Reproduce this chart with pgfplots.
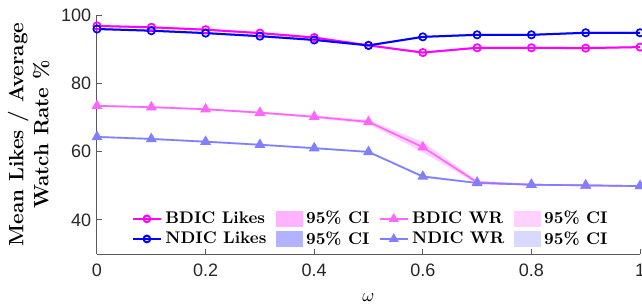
\documentclass[border=0pt]{standalone}
\usepackage{fontspec}
\usepackage{pgfplots}
\pgfplotsset{compat=1.18}
\newfontfamily\tickfont{Liberation Sans}
\definecolor{cBL}{RGB}{255,0,255}
\definecolor{cNL}{RGB}{0,0,255}
\definecolor{cBW}{RGB}{255,102,255}
\definecolor{cNW}{RGB}{127,127,255}
\definecolor{axgray}{RGB}{90,90,90}
\begin{document}
\begin{tikzpicture}[x=1pt,y=1pt]
\begin{axis}[
  scale only axis, width=325.8pt, height=143.4pt,
  xmin=0, xmax=1, ymin=30, ymax=100,
  axis x line*=bottom, axis y line*=left,
  axis line style={axgray, line width=0.6pt},
  xtick={0,0.2,0.4,0.6,0.8,1}, xticklabels={0,0.2,0.4,0.6,0.8,1},
  ytick={40,60,80,100},
  tick style={axgray, line width=0.6pt}, major tick length=3pt,
  tick align=inside,
  ticklabel style={font=\tickfont\fontsize{10.8}{12}\selectfont, text=black!85},
  xticklabel style={yshift=-2.5pt},
  /pgf/number format/assume math mode=true,
  xlabel={$\omega$}, xlabel style={font=\fontsize{11}{12}\selectfont, yshift=-3.2pt},
  ylabel={Mean Likes / Average\\Watch Rate \%},
  ylabel style={font=\bfseries\fontsize{12.4}{15}\selectfont, align=center, yshift=0pt},
  legend columns=4,
  legend style={draw=none, fill=none, at={(0.505,0.105)}, anchor=center,
    font=\bfseries\fontsize{10.1}{12}\selectfont, row sep=-1pt,
    /tikz/every even column/.append style={column sep=3.6pt}},
  legend cell align=left,
]
% CI bands
\addplot[draw=none, fill=cBL, fill opacity=0.3, forget plot] coordinates {
(0,97.1)(0.1,96.7)(0.2,96.0)(0.3,95.0)(0.4,93.7)(0.5,91.4)(0.6,89.3)(0.7,90.7)(0.8,90.7)(0.9,90.6)(1,90.9)
(1,90.3)(0.9,90.0)(0.8,90.1)(0.7,90.1)(0.6,88.7)(0.5,90.8)(0.4,93.1)(0.3,94.4)(0.2,95.4)(0.1,96.1)(0,96.5)} -- cycle;
\addplot[draw=none, fill=cNL, fill opacity=0.3, forget plot] coordinates {
(0,96.2)(0.1,95.7)(0.2,95.0)(0.3,94.1)(0.4,93.0)(0.5,91.4)(0.6,93.9)(0.7,94.5)(0.8,94.5)(0.9,95.1)(1,95.1)
(1,94.5)(0.9,94.5)(0.8,93.9)(0.7,93.9)(0.6,93.3)(0.5,90.8)(0.4,92.4)(0.3,93.5)(0.2,94.4)(0.1,95.1)(0,95.6)} -- cycle;
\addplot[draw=none, fill=cBW, fill opacity=0.3, forget plot] coordinates {
(0,73.7)(0.1,73.3)(0.2,72.7)(0.3,71.7)(0.4,70.6)(0.5,69.3)(0.6,62.8)(0.7,51.5)(0.8,50.5)(0.9,50.3)(1,50.1)
(1,49.7)(0.9,49.9)(0.8,50.1)(0.7,50.5)(0.6,59.8)(0.5,68.1)(0.4,69.8)(0.3,71.1)(0.2,72.1)(0.1,72.7)(0,73.1)} -- cycle;
\addplot[draw=none, fill=cNW, fill opacity=0.3, forget plot] coordinates {
(0,64.6)(0.1,64.0)(0.2,63.2)(0.3,62.3)(0.4,61.3)(0.5,60.2)(0.6,53.1)(0.7,51.0)(0.8,50.5)(0.9,50.3)(1,50.1)
(1,49.7)(0.9,49.9)(0.8,50.1)(0.7,50.6)(0.6,52.3)(0.5,59.6)(0.4,60.7)(0.3,61.7)(0.2,62.6)(0.1,63.4)(0,64.0)} -- cycle;
% lines
\addplot[cBL, line width=1.2pt, mark=o, mark size=2.2pt, mark options={line width=1pt}, forget plot] coordinates {
(0,96.8)(0.1,96.4)(0.2,95.7)(0.3,94.7)(0.4,93.4)(0.5,91.1)(0.6,89.0)(0.7,90.4)(0.8,90.4)(0.9,90.3)(1,90.6)};
\addplot[cNL, line width=1.2pt, mark=o, mark size=2.2pt, mark options={line width=1pt}, forget plot] coordinates {
(0,95.9)(0.1,95.4)(0.2,94.7)(0.3,93.8)(0.4,92.7)(0.5,91.1)(0.6,93.6)(0.7,94.2)(0.8,94.2)(0.9,94.8)(1,94.8)};
\addplot[cBW, line width=1pt, mark=triangle*, mark size=2.8pt, forget plot] coordinates {
(0,73.4)(0.1,73.0)(0.2,72.4)(0.3,71.4)(0.4,70.2)(0.5,68.7)(0.6,61.3)(0.7,51.0)(0.8,50.3)(0.9,50.1)(1,49.9)};
\addplot[cNW, line width=1pt, mark=triangle*, mark size=2.8pt, forget plot] coordinates {
(0,64.3)(0.1,63.7)(0.2,62.9)(0.3,62.0)(0.4,61.0)(0.5,59.9)(0.6,52.7)(0.7,50.8)(0.8,50.3)(0.9,50.1)(1,49.9)};
% legend
\addlegendimage{cBL, line width=1.2pt, mark=o, mark size=2pt}
\addlegendentry{BDIC Likes}
\addlegendimage{legend image code/.code={\path[fill=cBL!30, draw=none] (0cm,-0.17cm) rectangle (0.57cm,0.17cm);}}
\addlegendentry{95\% CI}
\addlegendimage{cBW, line width=1pt, mark=triangle*, mark size=2.5pt}
\addlegendentry{BDIC WR}
\addlegendimage{legend image code/.code={\path[fill=cBW!30, draw=none] (0cm,-0.17cm) rectangle (0.57cm,0.17cm);}}
\addlegendentry{95\% CI}
\addlegendimage{cNL, line width=1.2pt, mark=o, mark size=2pt}
\addlegendentry{NDIC Likes}
\addlegendimage{legend image code/.code={\path[fill=cNL!30, draw=none] (0cm,-0.17cm) rectangle (0.57cm,0.17cm);}}
\addlegendentry{95\% CI}
\addlegendimage{cNW, line width=1pt, mark=triangle*, mark size=2.5pt}
\addlegendentry{NDIC WR}
\addlegendimage{legend image code/.code={\path[fill=cNW!30, draw=none] (0cm,-0.17cm) rectangle (0.57cm,0.17cm);}}
\addlegendentry{95\% CI}
\coordinate (SW) at (rel axis cs:0,0);
\end{axis}
\pgfresetboundingbox
\path (SW) ++(-58.2pt,-30pt) rectangle ++(385.2pt,182.4pt);
\end{tikzpicture}
\end{document}
